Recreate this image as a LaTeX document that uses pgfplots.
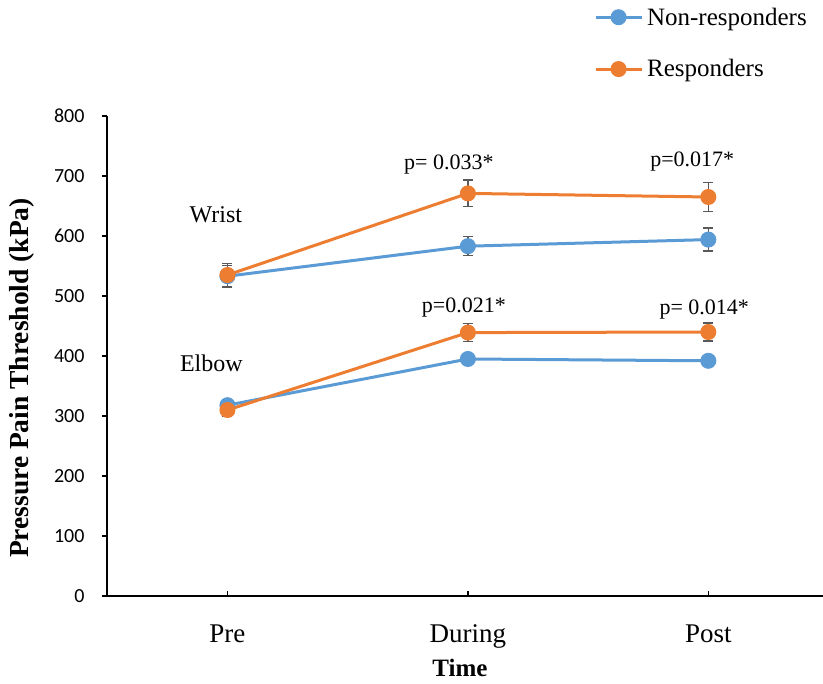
\documentclass[border=0pt]{standalone}
\usepackage{pgfplots}
\pgfplotsset{compat=1.18}
\usepackage{fontspec}
\setmainfont{Liberation Serif}
\newfontfamily\tickfont{Carlito}
\definecolor{cblue}{HTML}{5B9BD5}
\definecolor{corange}{HTML}{ED7D31}
\definecolor{cerr}{HTML}{595959}
\begin{document}
\begin{tikzpicture}[x=1pt,y=1pt]
\begin{axis}[
  at={(0pt,0pt)}, anchor=south west,
  scale only axis,
  width=716pt, height=480pt,
  xmin=-0.501, xmax=2.477,
  ymin=0, ymax=800,
  axis x line*=bottom, axis y line*=left,
  axis line style={line width=2pt,-},
  xtick={0,1,2}, xticklabels={Pre,During,Post},
  x tick style={line width=1.5pt,black},
  xtick align=inside,
  ytick={0,100,...,800},
  ytick align=outside,
  y tick style={line width=1.2pt,black},
  major tick length=5pt,
  yticklabel style={font=\tickfont\fontsize{20}{22}\selectfont, xshift=-14pt},
  xticklabel style={font=\fontsize{27}{30}\selectfont, yshift=-25pt},
  /pgf/number format/assume math mode=true,
  xlabel={\textbf{Time}},
  xlabel style={font=\fontsize{25}{28}\selectfont, at={(axis description cs:0.493,-0.15)}, anchor=center},
  ylabel={\textbf{Pressure Pain Threshold (kPa)}},
  ylabel style={font=\fontsize{27.5}{30}\selectfont, at={(axis description cs:-0.119,0.454)}, anchor=center},
  clip=false,
  legend style={draw=none, fill=none, at={(rel axis cs:0.68,1.23)}, anchor=north west,
    font=\fontsize{25}{28}\selectfont, row sep=29pt, inner sep=0pt,
    /tikz/every odd column/.append style={column sep=2pt}},
  legend cell align=left,
  legend image code/.code={\draw[mark repeat=2,mark phase=2,#1] plot coordinates {(0pt,0pt) (23pt,0pt) (46pt,0pt)};},
  every axis plot/.append style={line width=3pt, mark=*, mark size=6.5pt, mark options={solid}},
  error bars/error bar style={line width=1.4pt, cerr},
  error bars/error mark options={rotate=90, mark size=5pt, line width=1.4pt, cerr},
]
% Wrist non-responders
\addplot[cblue, mark options={fill=cblue, draw=cblue}, error bars/.cd, y dir=both, y explicit]
  coordinates {(0,533) +- (0,18) (1,583) +- (0,16) (2,594) +- (0,19)};
\addlegendentry{Non-responders}
% Wrist responders
\addplot[corange, mark options={fill=corange, draw=corange}, error bars/.cd, y dir=both, y explicit]
  coordinates {(0,535) +- (0,19) (1,671) +- (0,22) (2,665) +- (0,24)};
\addlegendentry{Responders}
% Elbow non-responders
\addplot[cblue, mark options={fill=cblue, draw=cblue}, forget plot, error bars/.cd, y dir=both, y explicit]
  coordinates {(0,318) +- (0,7) (1,395) +- (0,7) (2,392) +- (0,6)};
% Elbow responders
\addplot[corange, mark options={fill=corange, draw=corange}, forget plot, error bars/.cd, y dir=both, y explicit]
  coordinates {(0,310) +- (0,10) (1,439) +- (0,15) (2,440) +- (0,15)};
\node[font=\fontsize{24}{28}\selectfont] at (axis cs:-0.048,636) {Wrist};
\node[font=\fontsize{24}{28}\selectfont] at (axis cs:-0.067,388) {Elbow};
\node[font=\fontsize{22}{26}\selectfont] at (axis cs:0.921,719) {p= 0.033*};
\node[font=\fontsize{22}{26}\selectfont] at (axis cs:1.933,724) {p=0.017*};
\node[font=\fontsize{22}{26}\selectfont] at (axis cs:0.983,480) {p=0.021*};
\node[font=\fontsize{22}{26}\selectfont] at (axis cs:1.983,478) {p= 0.014*};
\end{axis}
\pgfresetboundingbox
\path (-107pt,-88pt) rectangle (716pt,596pt);
\end{tikzpicture}
\end{document}
